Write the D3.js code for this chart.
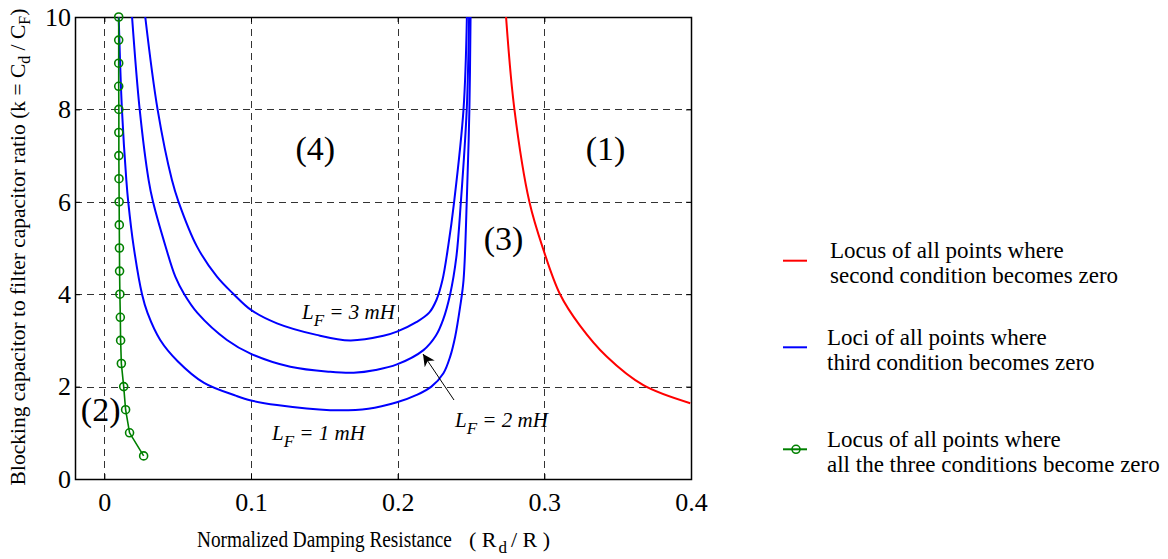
<!DOCTYPE html>
<html>
<head>
<meta charset="utf-8">
<script src="https://cdn.jsdelivr.net/npm/d3@7"></script>
<style>
  html, body { margin: 0; padding: 0; background: #fff; }
  svg { display: block; }
  text { font-family: "Liberation Serif", "Times New Roman", serif; fill: #000; }
</style>
</head>
<body>
<svg id="chart" width="1168" height="559"></svg>
<script>
// ---------- data ----------
const xTicks = [0, 0.1, 0.2, 0.3, 0.4];
const yTicks = [0, 2, 4, 6, 8, 10];

// Locus where all three conditions are zero (green, with circle markers)
const greenK = [10, 9.5, 9, 8.5, 8, 7.5, 7, 6.5, 6, 5.5, 5, 4.5, 4, 3.5, 3, 2.5, 2, 1.5, 1, 0.5];
const greenX = [0.0098, 0.0098, 0.0098, 0.0098, 0.0099, 0.0099, 0.0099, 0.0100, 0.0101, 0.0102,
                0.0103, 0.0104, 0.0106, 0.0109, 0.0111, 0.0116, 0.0132, 0.0145, 0.0172, 0.0268];

// Loci where third condition is zero (blue), L_F = 1, 2, 3 mH
const lf1X = [0.0098, 0.0120, 0.0150, 0.0163, 0.0200, 0.0257, 0.0295, 0.0381, 0.0500, 0.0680, 0.0900,
              0.1000, 0.1177, 0.154, 0.180, 0.1995, 0.213, 0.223, 0.2312, 0.2358, 0.2392, 0.2426,
              0.2449, 0.2471, 0.2489, 0.2497];
const lf1K = [10, 8, 6.47, 6, 5.03, 4.0, 3.59, 3.01, 2.55, 2.08, 1.80,
              1.70, 1.60, 1.49, 1.52, 1.66, 1.82, 2.0, 2.29, 2.65, 3.08, 3.73,
              4.3, 6, 8, 10];

const lf2X = [0.0189, 0.0241, 0.0302, 0.0332, 0.0416, 0.0484, 0.0545, 0.0636, 0.0836, 0.1000, 0.1268,
              0.154, 0.170, 0.185, 0.1995, 0.2176, 0.226, 0.231, 0.2358, 0.2400, 0.2431,
              0.2471, 0.2487];
const lf2K = [10, 8, 6.47, 6, 5.05, 4.38, 4.0, 3.59, 3.01, 2.71, 2.43,
              2.32, 2.30, 2.36, 2.48, 2.79, 3.1, 3.45, 4.0, 4.8, 6,
              8, 10];

const lf3X = [0.0279, 0.0363, 0.0461, 0.0506, 0.0632, 0.0768, 0.0882, 0.1000, 0.1177, 0.1447,
              0.1676, 0.1903, 0.1995, 0.213, 0.2215, 0.2265, 0.2305, 0.2345, 0.2385, 0.2449, 0.2472];
const lf3K = [10, 8, 6.47, 6, 5.03, 4.38, 4.0, 3.66, 3.37, 3.12,
              3.0, 3.10, 3.19, 3.40, 3.60, 3.88, 4.3, 5.05, 6, 8, 10];

// Locus where second condition is zero (red)
const redX = [0.2739, 0.2796, 0.2898, 0.2994, 0.3107, 0.3243, 0.3425, 0.3675, 0.3995];
const redK = [10, 8, 6, 4.96, 4.0, 3.32, 2.65, 2.03, 1.64];

const regionLabels = ["(1)", "(2)", "(3)", "(4)"];
const regionX = [0.3418, -0.0025, 0.2722, 0.1438];
const regionK = [6.9, 1.25, 4.95, 6.9];

const legendLines = [
  ["Locus of all points where", "second condition becomes zero"],
  ["Loci of all points where", "third condition becomes zero"],
  ["Locus of all points where", "all the three conditions become zero"]
];
const legendColors = ["#ff0000", "#0000ff", "#008000"];

// ---------- layout ----------
const svg = d3.select("#chart");
const L = 75, R = 691, T = 17, B = 479;
const x = d3.scaleLinear().domain([-0.02, 0.4]).range([L, R]);
const y = d3.scaleLinear().domain([0, 10]).range([B, T]);

svg.append("defs").append("clipPath").attr("id", "clip")
  .append("rect").attr("x", L).attr("y", T).attr("width", R - L).attr("height", B - T);

// grid
const grid = svg.append("g").attr("stroke", "#333").attr("stroke-width", 1)
  .attr("stroke-dasharray", "7,5").attr("shape-rendering", "crispEdges");
grid.selectAll("line.v").data(xTicks).join("line")
  .attr("x1", d => Math.round(x(d)) + 0.5).attr("x2", d => Math.round(x(d)) + 0.5)
  .attr("y1", T).attr("y2", B);
grid.selectAll("line.h").data(yTicks.filter(d => d > 0)).join("line")
  .attr("y1", d => Math.round(y(d)) + 0.5).attr("y2", d => Math.round(y(d)) + 0.5)
  .attr("x1", L).attr("x2", R);

// axes
const fontTick = "26px";
const xAxis = d3.axisBottom(x).tickValues(xTicks).tickFormat(d3.format("")).tickSizeInner(-5).tickSizeOuter(0).tickPadding(14);
const yAxis = d3.axisLeft(y).tickValues(yTicks).tickFormat(d3.format("")).tickSizeInner(-5).tickSizeOuter(0).tickPadding(4);
const gx = svg.append("g").attr("transform", `translate(0,${B})`).call(xAxis);
const gy = svg.append("g").attr("transform", `translate(${L},0)`).call(yAxis);
[gx, gy].forEach(g => {
  g.attr("font-family", null);
  g.selectAll("text").style("font-size", fontTick).style("font-family", "'Liberation Serif', serif").attr("fill", "#000");
  g.selectAll("line").attr("stroke", "#000");
  g.select(".domain").remove();
});
// top/right ticks
const topAx = d3.axisTop(x).tickValues(xTicks).tickFormat("").tickSizeInner(-5).tickSizeOuter(0);
const rightAx = d3.axisRight(y).tickValues(yTicks).tickFormat("").tickSizeInner(-5).tickSizeOuter(0);
svg.append("g").attr("transform", `translate(0,${T})`).call(topAx).select(".domain").remove();
svg.append("g").attr("transform", `translate(${R},0)`).call(rightAx).select(".domain").remove();

// box
svg.append("rect").attr("x", L + 0.5).attr("y", T + 0.5).attr("width", R - L).attr("height", B - T)
  .attr("fill", "none").attr("stroke", "#000").attr("stroke-width", 1.5);

// curves
const plot = svg.append("g").attr("clip-path", "url(#clip)");
const smooth = d3.line().x(d => x(d[0])).y(d => y(d[1])).curve(d3.curveCatmullRom.alpha(0.5));
const zip = (a, b) => a.map((v, i) => [v, b[i]]);

[[lf1X, lf1K], [lf2X, lf2K], [lf3X, lf3K]].forEach(([xs, ks]) => {
  plot.append("path").attr("d", smooth(zip(xs, ks)))
    .attr("fill", "none").attr("stroke", "#0000ff").attr("stroke-width", 2);
});
plot.append("path").attr("d", smooth(zip(redX, redK)))
  .attr("fill", "none").attr("stroke", "#ff0000").attr("stroke-width", 2);

const greenPts = zip(greenX, greenK);
const straight = d3.line().x(d => x(d[0])).y(d => y(d[1]));
svg.append("path").attr("d", straight(greenPts))
  .attr("fill", "none").attr("stroke", "#008000").attr("stroke-width", 1.6);
svg.append("g").selectAll("circle").data(greenPts).join("circle")
  .attr("cx", d => x(d[0])).attr("cy", d => y(d[1])).attr("r", 4)
  .attr("fill", "none").attr("stroke", "#008000").attr("stroke-width", 1.6);

// region labels
svg.append("g").selectAll("text").data(regionLabels).join("text")
  .attr("x", (d, i) => x(regionX[i])).attr("y", (d, i) => y(regionK[i]))
  .attr("text-anchor", "middle").style("font-size", "34px").text(d => d);

// L_F labels
function lfLabel(px, py, val) {
  const t = svg.append("text").attr("x", px).attr("y", py)
    .style("font-size", "21px").style("font-style", "italic");
  t.append("tspan").text("L");
  t.append("tspan").attr("dy", 7).style("font-size", "17px").text("F");
  t.append("tspan").attr("dy", -7).text(" = " + val + " mH");
}
lfLabel(302, 319, 3);
lfLabel(272, 440, 1);
lfLabel(455, 427, 2);

// arrow
svg.append("defs").append("marker").attr("id", "arr").attr("viewBox", "0 0 10 10")
  .attr("refX", 10).attr("refY", 5).attr("markerWidth", 12).attr("markerHeight", 12)
  .attr("markerUnits", "userSpaceOnUse").attr("orient", "auto")
  .append("path").attr("d", "M0,0 L10,5 L0,10 L3,5 Z").attr("fill", "#000");
svg.append("line").attr("x1", 454).attr("y1", 400).attr("x2", 423).attr("y2", 354)
  .attr("stroke", "#000").attr("stroke-width", 1).attr("marker-end", "url(#arr)");

// axis titles (first part is horizontally condensed like the original)
const xt1 = svg.append("text").style("font-size", "24px").text("Normalized Damping Resistance");
const natW = xt1.node().getComputedTextLength() || 317;
xt1.attr("transform", `translate(197,547) scale(${255 / natW},1)`);
const xt2 = svg.append("text").attr("x", 469).attr("y", 547).style("font-size", "22px");
xt2.append("tspan").text("( R");
xt2.append("tspan").attr("dx", 2).attr("dy", 6).style("font-size", "17px").text("d");
xt2.append("tspan").attr("dx", 4).attr("dy", -6).text("/ R )");

const yt = svg.append("text").attr("transform", "translate(25,247) rotate(-90)")
  .attr("text-anchor", "middle").style("font-size", "21.5px");
yt.append("tspan").text("Blocking capacitor to filter capacitor ratio (k = C");
yt.append("tspan").attr("dy", 5).style("font-size", "16px").text("d");
yt.append("tspan").attr("dy", -5).text(" / C");
yt.append("tspan").attr("dy", 5).style("font-size", "16px").text("F");
yt.append("tspan").attr("dy", -5).text(")");

// legend
const legY = [260.7, 347.3, 449.3];
const lg = svg.append("g");
legendLines.forEach((lines, i) => {
  lg.append("line").attr("x1", 783).attr("x2", 807).attr("y1", legY[i]).attr("y2", legY[i])
    .attr("stroke", legendColors[i]).attr("stroke-width", 2);
  if (i === 2) {
    lg.append("circle").attr("cx", 796).attr("cy", legY[i]).attr("r", 4)
      .attr("fill", "none").attr("stroke", legendColors[i]).attr("stroke-width", 1.6);
  }
  lines.forEach((s, j) => {
    lg.append("text").attr("x", i === 0 ? 830 : 827).attr("y", legY[i] - 2.5 + j * 25)
      .style("font-size", "23px").text(s);
  });
});
</script>
</body>
</html>
